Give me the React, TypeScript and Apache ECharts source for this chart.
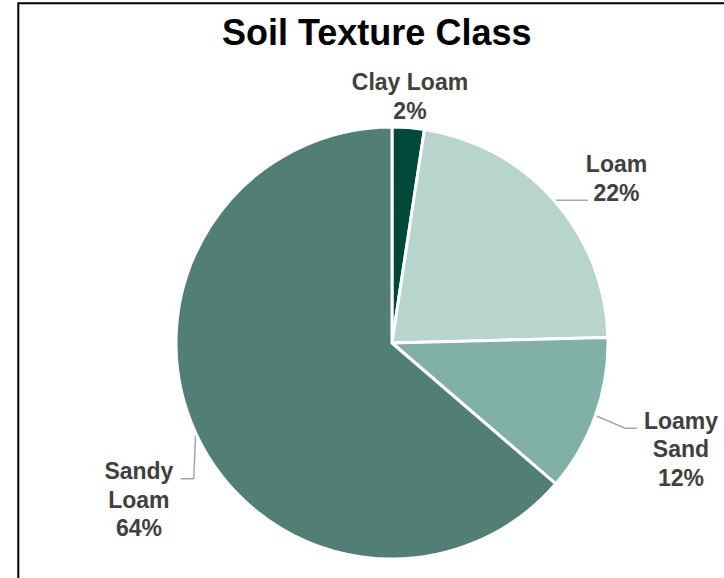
import React, { useEffect, useRef } from "react";
import * as echarts from "echarts";

// ---- data ----
const categories = ["Clay Loam", "Loam", "Loamy Sand", "Sandy Loam"];
const shares = [2.4, 22.2, 11.7, 63.7];
const labelNames = ["Clay Loam", "Loam", "Loamy\nSand", "Sandy\nLoam"];
const sliceColors = ["#00483a", "#b7d4cd", "#80b0a6", "#517f76"];

// ---- label layout (offsets from each slice's edge point) ----
const labelOffsets = [
  [1.7, -31.3],
  [62.5, -21.7],
  [85.5, 33.6],
  [-56.8, 66.7],
];
const leaderShapes = [
  [[0, 0]],
  [[34, 0]],
  [[29.5, 12.6], [41.5, 12.6]],
  [[-2, 45.7], [-15, 45.7]],
];

const FONT = "'Liberation Sans', Arial, Helvetica, sans-serif";

export default function App() {
  const ref = useRef<HTMLDivElement>(null);
  useEffect(() => {
    if (!ref.current) return;
    const chart = echarts.init(ref.current, undefined, { renderer: "svg" });
    chart.setOption({
      animation: false,
      backgroundColor: "#ffffff",
      title: {
        text: "Soil Texture Class",
        left: 217,
        top: 9,
        textStyle: {
          fontFamily: FONT,
          fontSize: 36,
          fontWeight: "bold",
          color: "#000000",
        },
      },
      graphic: [
        {
          type: "rect",
          x: 18.3,
          y: 3.2,
          shape: { x: 0, y: 0, width: 800, height: 700 },
          style: { fill: "none", stroke: "#000000", lineWidth: 2 },
          silent: true,
          z: -1,
        },
      ],
      series: [
        {
          type: "pie",
          center: [392, 343],
          radius: 216,
          startAngle: 90,
          clockwise: true,
          avoidLabelOverlap: false,
          percentPrecision: 0,
          itemStyle: { borderColor: "#ffffff", borderWidth: 3 },
          label: {
            show: true,
            position: "outside",
            fontFamily: FONT,
            fontSize: 23,
            fontWeight: "bold",
            color: "#404040",
            lineHeight: 28.5,
            formatter: (p: any) =>
              labelNames[p.dataIndex] + "\n" + Math.round(p.percent) + "%",
          },
          labelLine: {
            show: true,
            length: 10,
            length2: 10,
            lineStyle: { color: "#a6a6a6", width: 1.5 },
          },
          labelLayout: (params: any) => {
            const pts = params.labelLinePoints;
            const i = params.dataIndex;
            if (!pts || !pts[0]) return { align: "center", verticalAlign: "middle" };
            const p1 = pts[0];
            const off = labelOffsets[i];
            return {
              x: p1[0] + off[0],
              y: p1[1] + off[1],
              align: "center",
              verticalAlign: "middle",
              labelLinePoints: [
                [p1[0], p1[1]],
                ...leaderShapes[i].map((d) => [p1[0] + d[0], p1[1] + d[1]]),
              ],
            };
          },
          emphasis: { disabled: true },
          data: categories.map((name, i) => ({
            name,
            value: shares[i],
            itemStyle: { color: sliceColors[i] },
          })),
        },
      ],
    });
    return () => chart.dispose();
  }, []);
  return (
    <div
      ref={ref}
      style={{ position: "absolute", left: 0, top: 0, width: 724, height: 578 }}
    />
  );
}
